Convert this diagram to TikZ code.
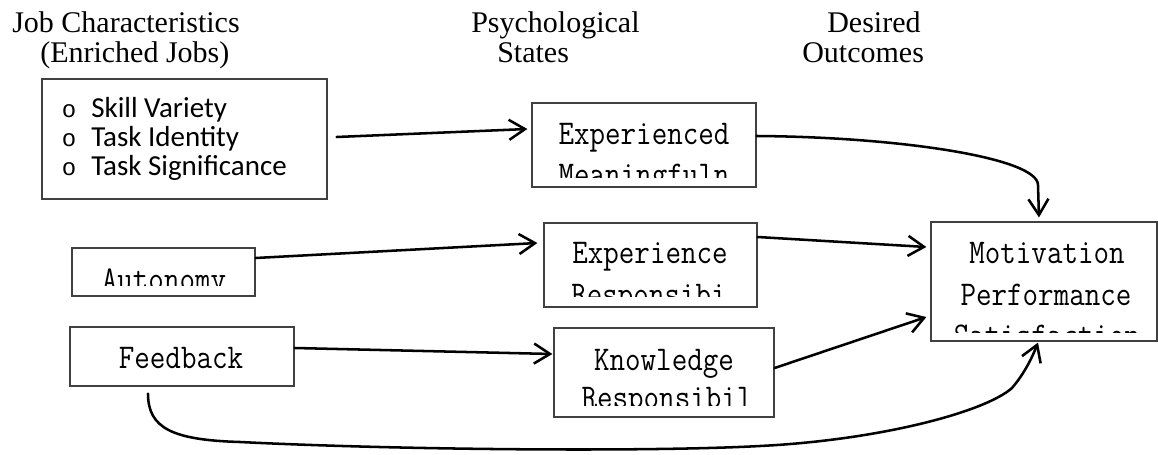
\documentclass[tikz,border=0pt]{standalone}
\usepackage{fontspec}
\usepackage{graphicx}
\setmainfont{Liberation Serif}
\newfontfamily\listfont{Carlito}
\newfontfamily\bulletfont{Liberation Mono}
\newcommand\bxt[1]{\scalebox{0.87}[1]{#1}}
\usetikzlibrary{arrows.meta,fit,calc}
\begin{document}
\begin{tikzpicture}[x=0.75pt,y=-0.75pt,
  box/.style={draw=black!75,line width=0.9pt,inner sep=0pt},
  hdr/.style={font=\fontsize{22.5pt}{27pt}\selectfont,anchor=base west,inner sep=0pt},
  btxt/.style={font=\ttfamily\fontsize{26pt}{28pt}\selectfont,anchor=base,inner sep=0pt},
  ltxt/.style={font=\listfont\fontsize{21.75pt}{26pt}\selectfont,anchor=base west,inner sep=0pt},
  bul/.style={font=\bulletfont\fontsize{18pt}{22pt}\selectfont,anchor=base,inner sep=0pt},
  conn/.style={line width=1.9pt,line cap=round,-{Straight Barb[length=12pt,width=15pt]}}]
\useasboundingbox (0,0) rectangle (1158,454);

% headers
\node[hdr] (h1a) at (12,32) {Job Characteristics};
\node[hdr] (h1b) at (40,62) {(Enriched Jobs)};
\node[hdr] (h2a) at (471,32) {Psychological};
\node[hdr] (h2b) at (497,62) {States};
\node[hdr] (h3a) at (827,32) {Desired};
\node[hdr] (h3b) at (802,62) {Outcomes};

% job characteristics box
\node[box,fit={(42,79)(327,199)}] (job) {};
\begin{scope}
\clip (42,79) rectangle (327,188);
\node[bul] (b1) at (69,117) {o};
\node[bul] (b2) at (69,146) {o};
\node[bul] (b3) at (69,175) {o};
\node[ltxt] (l1) at (91,117) {Skill Variety};
\node[ltxt] (l2) at (91,146) {Task Identity};
\node[ltxt] (l3) at (91,175) {Task Significance};
\end{scope}

% autonomy
\node[box,fit={(72,248)(255,296)}] (aut) {};
\begin{scope}
\clip (72,248) rectangle (255,285);
\node[btxt] (autt) at (164,290) {\bxt{Autonomy}};
\end{scope}

% feedback
\node[box,fit={(70,327)(294,386)}] (fb) {};
\node[btxt] (fbt) at (181,368) {\bxt{Feedback}};

% experienced meaningfulness
\node[box,fit={(532,103)(756,187)}] (em) {};
\begin{scope}
\clip (532,103) rectangle (756,177);
\node[btxt] (em1) at (644,144) {\bxt{Experienced}};
\node[btxt] (em2) at (644,185) {\bxt{Meaningfuln}};
\end{scope}

% experience responsibility
\node[box,fit={(544,223)(757,307)}] (er) {};
\begin{scope}
\clip (544,223) rectangle (757,296);
\node[btxt] (er1) at (650,263) {\bxt{Experience}};
\node[btxt] (er2) at (649,305) {\bxt{Responsibi}};
\end{scope}

% knowledge
\node[box,fit={(554,328)(774,417)}] (kr) {};
\begin{scope}
\clip (554,328) rectangle (774,405);
\node[btxt] (kr1) at (664,370) {\bxt{Knowledge}};
\node[btxt] (kr2) at (667,408) {\bxt{Responsibil}};
\end{scope}

% outcomes
\node[box,fit={(931,222)(1157,341)}] (mot) {};
\begin{scope}
\clip (931,222) rectangle (1157,332);
\node[btxt] (mo1) at (1047,263) {\bxt{Motivation}};
\node[btxt] (mo2) at (1046,305) {\bxt{Performance}};
\node[btxt] (mo3) at (1047,346) {\bxt{Satisfaction}};
\end{scope}

% connectors
\draw[conn] ($(job.east)+(9,-2)$) -- ($(em.west)+(-4,-16)$);
\draw[conn] ($(em.east)+(0,-9)$) .. controls (900,137) and (1038,158) .. (1038,185) -- ($(mot.north)+(-5,-4)$);
\draw[conn] ($(aut.east)+(0,-14)$) -- ($(er.west)+(-6,-22)$);
\draw[conn] ($(er.east)+(0,-28)$) -- ($(mot.west)+(-4,-34.5)$);
\draw[conn] ($(kr.east)+(0,-4.5)$) -- ($(mot.west)+(-4,35.5)$);
\draw[conn] ($(fb.east)+(0,-8.5)$) -- ($(kr.west)+(-1,-18.5)$);
\coordinate (fbs) at ($(fb.south)+(-34,7)$);
\draw[conn] (fbs) .. controls (148,428) and (172,440) .. (240,442)
  .. controls (400,450) and (650,452) .. (760,446)
  .. controls (880,440) and (985,412) .. (1012,388)
  .. controls (1024,374) and (1032,358) .. ($(mot.south)+(-6,1)$);
\end{tikzpicture}
\end{document}
